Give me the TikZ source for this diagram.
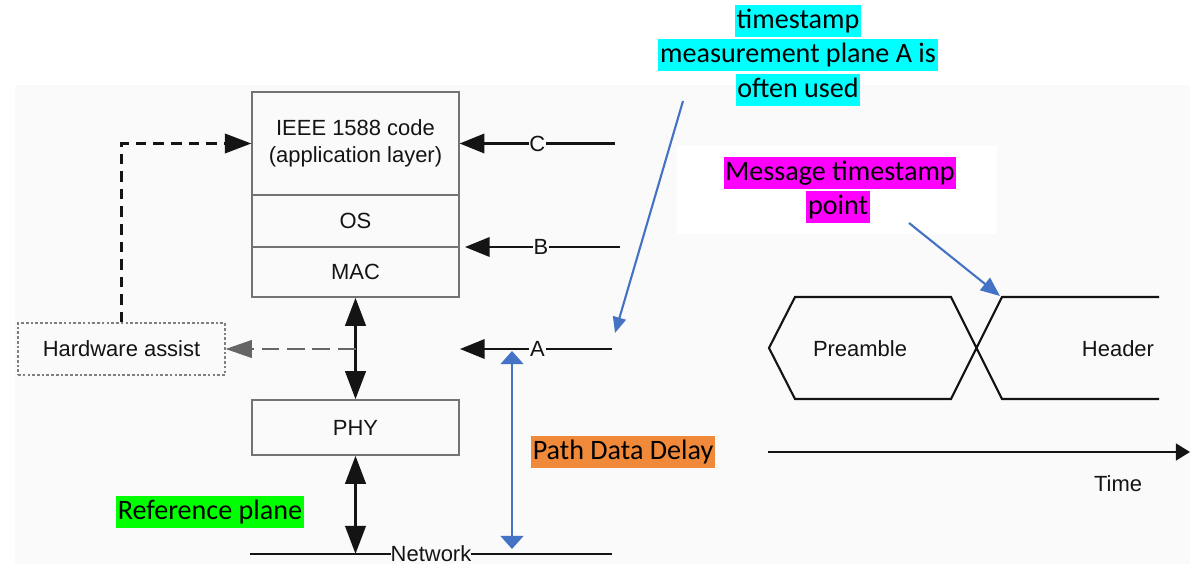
\documentclass[tikz,border=0pt]{standalone}
\usepackage{fontspec}
\setmainfont{Carlito}
\newfontfamily\diagfont{Liberation Sans}
\usepackage{tikz}
\usetikzlibrary{arrows.meta}
\definecolor{hlcyan}{RGB}{0,255,255}
\definecolor{hlmagenta}{RGB}{255,0,255}
\definecolor{hlgreen}{RGB}{0,255,0}
\definecolor{hlorange}{RGB}{240,138,58}
\definecolor{noteblue}{RGB}{68,114,196}
\definecolor{bg}{RGB}{250,250,250}
\definecolor{ink}{RGB}{20,20,20}

\begin{document}
\begin{tikzpicture}[x=0.02cm, y=-0.02cm,
  layer/.style={draw=black!55, line width=0.8pt, minimum width=4.14cm, inner sep=0pt,
    font=\diagfont\fontsize{12.5}{15}\selectfont, text=ink, align=center},
  hl/.style={inner xsep=1pt, inner ysep=0pt, text height=13.5pt, text depth=5pt,
    font=\fontsize{16}{19}\selectfont},
  tag/.style={fill=bg, inner sep=0.5pt, font=\diagfont\fontsize{12.5}{15}\selectfont, text=ink},
  bigtip/.style={line width=2pt, ink, {Triangle[length=16pt,width=11.5pt]}-{Triangle[length=16pt,width=11.5pt]}},
  tip/.style={line width=1.3pt, draw=ink, -{Triangle[length=14pt,width=11pt]}},
  hwdash/.style={line width=1.4pt, dash pattern=on 6pt off 4pt},
  note/.style={noteblue, line width=1.2pt, -{Triangle[length=9pt,width=7.5pt]}}]
\useasboundingbox (0,0) rectangle (1190,564);
\fill[bg] (15,85) rectangle (1190,564);
\fill[white] (677,146) rectangle (997,234);

% protocol stack
\node[layer, minimum height=2.06cm] (ieee) at (355.5,143.5) {IEEE 1588 code\\(application layer)};
\node[layer, minimum height=1.04cm] (os) at (355.5,221) {OS};
\node[layer, minimum height=1.0cm] (mac) at (355.5,272) {MAC};
\node[layer, minimum height=1.1cm] (phy) at (355.5,427.5) {PHY};
\node[layer, draw=black!50, line width=0.7pt, dash pattern=on 1.5pt off 1.2pt, minimum height=1.04cm] (hw) at (121.5,349) {Hardware assist};

% measurement planes
\coordinate (cR) at (615,143.5);
\coordinate (bR) at (620,247);
\coordinate (bTip) at (465,247);
\coordinate (aR) at (612,349);
\coordinate (aTip) at (460,349);
\draw[tip] (cR) -- node[tag, pos=0.5] {C} (ieee.east);
\draw[tip] (bR) -- node[tag, pos=0.51] {B} (bTip);
\draw[tip] (aR) -- node[tag, pos=0.49] {A} (aTip);

% network
\coordinate (netL) at (250,554);
\coordinate (netR) at (612,554);
\draw[line width=1.6pt, ink] (netL) -- node[tag, pos=0.5, inner sep=0pt] (net) {Network} (netR);

\draw[bigtip] (mac.south) -- (phy.north);
\draw[bigtip] (phy.south) -- (phy.south |- netL);
\coordinate (junc) at (mac.south |- hw.east);
\draw[hwdash, black!60, dash pattern=on 10pt off 4.5pt, -{Triangle[length=15pt,width=10pt]}] (junc) -- (hw.east);
\draw[hwdash, ink, -{Triangle[length=15pt,width=11pt]}] (hw.north) |- (ieee.west);

% path data delay
\coordinate (delayTop) at (512,351);
\coordinate (delayBot) at (512,549);
\draw[noteblue, line width=1.3pt, {Triangle[length=7.5pt,width=13pt]}-{Triangle[length=7.5pt,width=13pt]}] (delayTop) -- (delayBot);
\node[hl, fill=hlorange] (pdd) at (623,452) {Path Data Delay};
\node[hl, fill=hlgreen] (ref) at (210,512) {Reference plane};

% plane A note
\node[hl, fill=hlcyan] (tsA) at (798,21) {timestamp};
\node[hl, fill=hlcyan] (tsB) at (798,55) {measurement plane A is};
\node[hl, fill=hlcyan] (tsC) at (798,90) {often used};
\coordinate (tsStart) at (683,101);
\coordinate (tsEnd) at (615,333);
\draw[note] (tsStart) -- (tsEnd);

% frame
\draw[line width=1.2pt, ink, line join=miter] (1159,297) -- (1002,297) -- (951,399) -- (795,399) -- (769,348)
  -- (795,297) -- (951,297) -- (1002,399) -- (1159,399);
\node[tag, fill=none] (pre) at (860,349) {Preamble};
\node[tag, fill=none] (hdr) at (1118,349) {Header};
\coordinate (frameTop) at (1000,296);

\node[hl, fill=hlmagenta] (msgA) at (840,173) {Message timestamp};
\node[hl, fill=hlmagenta] (msgB) at (838,207) {point};
\coordinate (msgStart) at (909,223);
\draw[note, -{Triangle[length=11pt,width=9pt]}] (msgStart) -- (frameTop);

% time axis
\coordinate (tL) at (768,452);
\coordinate (tR) at (1190,452);
\draw[line width=1.4pt, ink, -{Triangle[length=8pt,width=9.5pt]}] (tL) -- (tR);
\node[tag, fill=none] (time) at (1118,484) {Time};
\end{tikzpicture}
\end{document}
